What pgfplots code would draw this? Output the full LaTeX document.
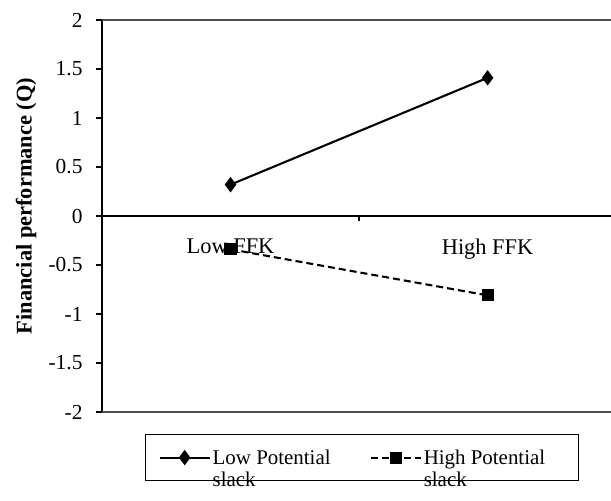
\documentclass[border=0pt]{standalone}
\usepackage{fontspec}
\setmainfont{Liberation Serif}
\usepackage{pgfplots}
\pgfplotsset{compat=1.18}
\begin{document}
\begin{tikzpicture}
\begin{axis}[
  scale only axis, width=509bp, height=392bp,
  xmin=0, xmax=1.98, ymin=-2, ymax=2,
  axis y line=left, axis x line=middle,
  axis line style={-, black, line width=1.7pt},
  hide obscured x ticks=false, hide obscured y ticks=false,
  tick align=outside,
  ytick={-2,-1.5,-1,-0.5,0,0.5,1,1.5,2},
  yticklabels={-2,-1.5,-1,-0.5,0,0.5,1,1.5,2},
  ytick style={black, line width=1.5pt},
  major tick length=6bp,
  yticklabel style={font=\fontsize{21.5}{24}\selectfont, xshift=-10bp},
  xtick={0.5,1.5}, xticklabels={Low FFK, High FFK},
  xtick style={draw=none},
  xticklabel style={font=\fontsize{22.5}{24}\selectfont, yshift=-13bp},
  extra x ticks={1}, extra x tick labels={},
  extra x tick style={xtick style={draw=black, line width=1.5pt}, major tick length=5bp},
  ylabel={\bfseries Financial performance (Q)},
  ylabel style={at={(axis description cs:-0.149,0.5255)}, anchor=center, rotate=0,
    font=\fontsize{22.5}{24}\selectfont},
  legend columns=2,
  legend style={at={(axis description cs:0.0845,-0.0561)}, anchor=north west,
    draw=black, line width=1.2pt, inner xsep=13bp, inner ysep=13bp,
    font=\fontsize{21}{22}\selectfont, cells={anchor=west, align=left}},
  legend image code/.code={\draw[mark repeat=2, mark phase=2, #1]
    plot coordinates {(0bp,0bp) (25bp,0bp) (50bp,0bp)};},
]
\addplot[black, line width=2.1pt, mark=diamond*, mark size=6bp]
  coordinates {(0.5,0.32) (1.5,1.41)};
\addlegendentry{\parbox[t]{155bp}{\baselineskip=22bp Low Potential\\slack}}
\addplot[black, line width=2.1pt, dash pattern=on 7bp off 4bp, mark=square*, mark size=5bp, mark options={solid}]
  coordinates {(0.5,-0.34) (1.5,-0.81)};
\addlegendentry{\parbox[t]{140bp}{\baselineskip=22bp High Potential\\slack}}
\draw[black!70, line width=1.7pt] (axis cs:0,2) -- (axis cs:1.98,2);
\draw[black!70, line width=1.7pt] (axis cs:0,-2) -- (axis cs:1.98,-2);
\end{axis}
\pgfresetboundingbox
\path[use as bounding box] (-102bp,-89bp) rectangle (509bp,412bp);
\end{tikzpicture}
\end{document}
